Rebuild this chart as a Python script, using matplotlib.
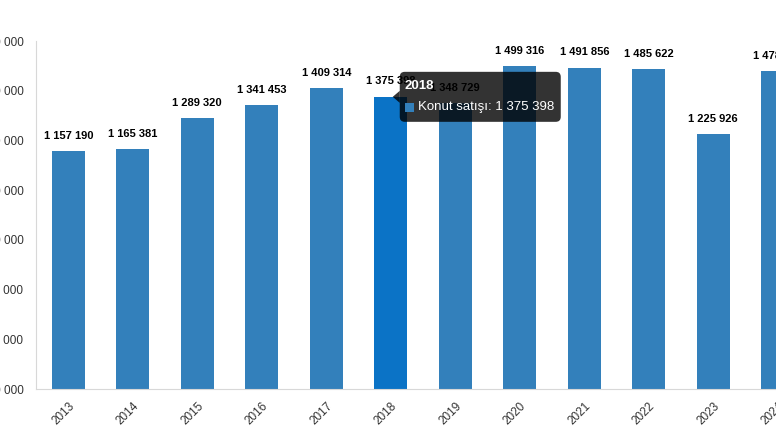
import matplotlib.pyplot as plt
from matplotlib.patches import FancyBboxPatch, Rectangle, Polygon
from matplotlib.transforms import ScaledTranslation
from matplotlib.ticker import FuncFormatter, MultipleLocator

plt.rcParams['font.family'] = ['Liberation Sans', 'DejaVu Sans']

years = ['2013', '2014', '2015', '2016', '2017', '2018',
         '2019', '2020', '2021', '2022', '2023', '2024']
sales = [1157190, 1165381, 1289320, 1341453, 1409314, 1375398,
         1348729, 1499316, 1491856, 1485622, 1225926, 1478025]
series_name = 'Konut satışı'
hover_idx = 5  # 2018 is highlighted with a tooltip


def spaced(v):
    return f'{v:,.0f}'.replace(',', ' ')


fig = plt.figure(figsize=(7.76, 4.34), dpi=100)
# axes runs past the right edge, like the cropped screenshot
ax = fig.add_axes([36 / 776, 45 / 434, 774 / 776, 348 / 434])

base = '#3380bb'
hot = '#0b73c6'
colors = [hot if i == hover_idx else base for i in range(len(years))]
x = range(len(years))
ax.bar(x, sales, width=0.51, color=colors, zorder=2)

for i, v in enumerate(sales):
    ax.annotate(spaced(v), (i, v), xytext=(0, 7.5), textcoords='offset points',
                ha='center', va='bottom', fontsize=8, fontweight='bold',
                color='black', zorder=3)

ax.set_xlim(-0.5, len(years) - 0.5)
ax.set_ylim(200000, 1600000)
ax.yaxis.set_major_locator(MultipleLocator(200000))
ax.yaxis.set_major_formatter(FuncFormatter(lambda v, p: spaced(v)))
ax.set_xticks(list(x))
ax.set_xticklabels(years, rotation=45, ha='right', rotation_mode='anchor')

ax.tick_params(axis='y', length=0, pad=9, labelsize=8.5, labelcolor='#333333')
ax.tick_params(axis='x', length=0, pad=8, labelsize=8.5, labelcolor='#333333')
for s in ['top', 'right']:
    ax.spines[s].set_visible(False)
for s in ['left', 'bottom']:
    ax.spines[s].set_color('#d8d8d8')
    ax.spines[s].set_linewidth(0.8)

# tooltip anchored at the hovered bar, sized in inches
tr = fig.dpi_scale_trans + ScaledTranslation(hover_idx, sales[hover_idx], ax.transData)
box = FancyBboxPatch((0.09, -0.25), 1.61, 0.50, boxstyle='round,pad=0,rounding_size=0.05',
                     transform=tr, facecolor='black', alpha=0.8, edgecolor='none',
                     clip_on=False, zorder=5)
fig.add_artist(box)
caret = Polygon([(0.02, 0.0), (0.09, 0.06), (0.09, -0.06)], closed=True, transform=tr,
                facecolor='black', alpha=0.8, edgecolor='none', clip_on=False, zorder=5)
fig.add_artist(caret)
fig.text(0.14, 0.11, years[hover_idx], transform=tr, color='white', fontsize=9.5,
         fontweight='bold', ha='left', va='center', zorder=6)
fig.add_artist(Rectangle((0.14, -0.15), 0.09, 0.09, transform=tr, facecolor=base,
                         edgecolor='none', clip_on=False, zorder=6))
fig.text(0.27, -0.10, f'{series_name}: {spaced(sales[hover_idx])}', transform=tr,
         color='white', fontsize=9.5, ha='left', va='center', zorder=6)

fig.savefig('out.png', dpi=100)
